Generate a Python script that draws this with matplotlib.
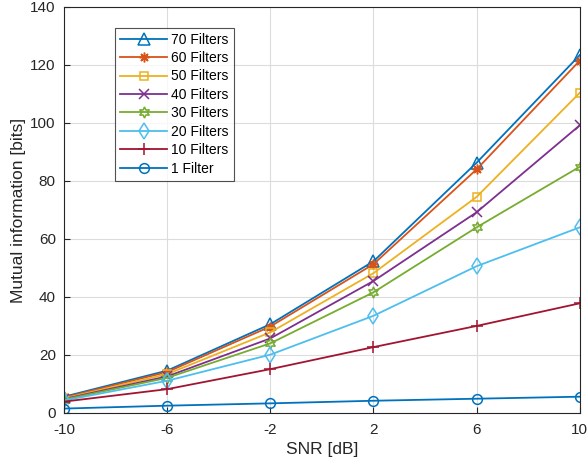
import numpy as np
import matplotlib
matplotlib.use("Agg")
import matplotlib.pyplot as plt

plt.rcParams["axes.unicode_minus"] = False
plt.rcParams["font.family"] = ["Liberation Sans", "DejaVu Sans"]

# values
snr = [-10, -6, -2, 2, 6, 10]
mi_70 = [5.6, 14.6, 30.6, 52.3, 86.3, 123.4]
mi_60 = [5.3, 14.1, 29.8, 51.3, 84.0, 121.5]
mi_50 = [5.0, 13.4, 27.8, 48.2, 74.5, 110.4]
mi_40 = [4.8, 12.6, 25.7, 45.5, 69.2, 99.2]
mi_30 = [4.6, 12.1, 24.0, 41.6, 64.0, 84.9]
mi_20 = [4.3, 11.1, 20.1, 33.5, 50.6, 64.0]
mi_10 = [3.9, 8.2, 15.1, 22.7, 30.0, 37.8]
mi_1 = [1.5, 2.5, 3.3, 4.2, 4.9, 5.6]

labels = ["70 Filters", "60 Filters", "50 Filters", "40 Filters",
          "30 Filters", "20 Filters", "10 Filters", "1 Filter"]
series = [mi_70, mi_60, mi_50, mi_40, mi_30, mi_20, mi_10, mi_1]

# matlab default colour order
colors = ["#0072BD", "#D95319", "#EDB120", "#7E2F8E",
          "#77AC30", "#4DBEEE", "#A2142F", "#0072BD"]
markers = ["^", (8, 2, 0), "s", "x", (6, 1, 0), "d", "+", "o"]
msizes = [8, 7, 6, 7, 8, 8, 9, 7]

fig = plt.figure(figsize=(5.88, 4.65), dpi=100)
ax = fig.add_axes([0.109, 0.112, 0.877, 0.873])

for y, lab, c, m, ms in zip(series, labels, colors, markers, msizes):
    ax.plot(snr, y, color=c, marker=m, markersize=ms, markerfacecolor="none",
            markeredgecolor=c, markeredgewidth=1.1, linewidth=1.3, label=lab)

ax.set_xlim(-10, 10)
ax.set_ylim(0, 140)
ax.set_xticks(snr)
ax.set_yticks(np.arange(0, 141, 20))
ax.grid(True, color="#dcdcdc", linewidth=0.8)
ax.set_axisbelow(True)
ax.tick_params(direction="in", labelsize=11, colors="#262626", length=4, pad=6)
ax.tick_params(axis="x", pad=7)
for s in ax.spines.values():
    s.set_color("#262626")
    s.set_linewidth(0.8)

ax.set_xlabel("SNR [dB]", fontsize=12.5, color="#262626", labelpad=4)
ax.set_ylabel("Mutual information [bits]", fontsize=12.5, color="#262626", labelpad=3)

leg = ax.legend(loc="upper left", bbox_to_anchor=(0.099, 0.949), fontsize=10,
                frameon=True, fancybox=False, edgecolor="#262626",
                handlelength=3.4, labelspacing=0.32, borderpad=0.35,
                handletextpad=0.3, borderaxespad=0)
leg.get_frame().set_linewidth(0.8)

fig.savefig("out.png", dpi=100)
